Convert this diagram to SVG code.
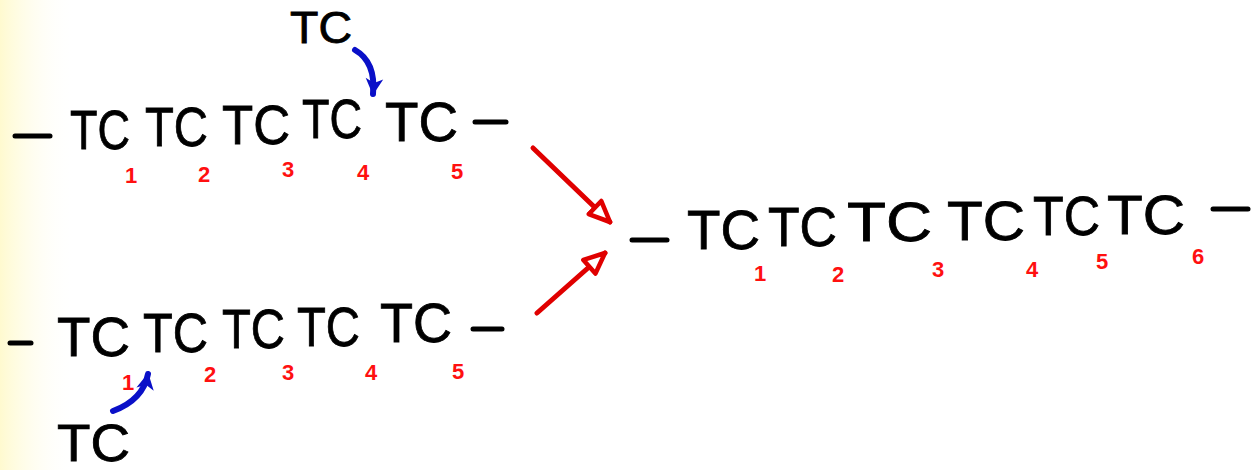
<svg xmlns="http://www.w3.org/2000/svg" width="1254" height="470" viewBox="0 0 1254 470">
<defs>
<linearGradient id="scan" x1="0" y1="0" x2="1" y2="0">
<stop offset="0" stop-color="#fff6a8" stop-opacity="0.55"/>
<stop offset="1" stop-color="#ffffff" stop-opacity="0"/>
</linearGradient>
<marker id="open" markerUnits="userSpaceOnUse" markerWidth="26" markerHeight="26" viewBox="0 0 20 20" refX="18" refY="10" orient="auto">
<path d="M2,3 L18,10 L2,17 Z" fill="#ffffff" stroke="#e00000" stroke-width="3.5" stroke-linejoin="round"/>
</marker>
<marker id="blue" markerUnits="userSpaceOnUse" markerWidth="22" markerHeight="22" viewBox="0 0 20 20" refX="16" refY="10" orient="auto">
<path d="M2,2 L17,10 L2,18 L6,10 Z" fill="#0a10c8"/>
</marker>
</defs>
<style>
.tc{font-family:"Liberation Sans",Arial,sans-serif;font-size:56px;fill:#000;stroke:#000;stroke-width:0.8}
.num{font-family:"Liberation Sans",Arial,sans-serif;font-size:22px;font-weight:bold;fill:#ff1010;text-anchor:middle}
.dash{stroke:#000;stroke-width:5;stroke-linecap:round}
.red{stroke:#e00000;stroke-width:5;stroke-linecap:round;fill:none}
.bl{stroke:#0a10c8;stroke-width:6;stroke-linecap:round;fill:none}
</style>
<rect x="0" y="0" width="1254" height="470" fill="#ffffff"/>
<rect x="0" y="0" width="75" height="470" fill="url(#scan)"/>

<g id="chain-top">
<line class="dash" x1="15" y1="136" x2="50" y2="136"/>
<text class="tc" x="70" y="149" textLength="60" lengthAdjust="spacingAndGlyphs">TC</text>
<text class="tc" x="145" y="146" textLength="63" lengthAdjust="spacingAndGlyphs">TC</text>
<text class="tc" x="222" y="144" textLength="68" lengthAdjust="spacingAndGlyphs">TC</text>
<text class="tc" x="302" y="138" textLength="60" lengthAdjust="spacingAndGlyphs">TC</text>
<text class="tc" x="385" y="141" textLength="73" lengthAdjust="spacingAndGlyphs">TC</text>
<line class="dash" x1="475" y1="122" x2="506" y2="122"/>
<text class="num" x="131" y="183">1</text>
<text class="num" x="204" y="182">2</text>
<text class="num" x="288" y="177">3</text>
<text class="num" x="363" y="180">4</text>
<text class="num" x="457" y="179">5</text>
</g>

<g id="insert-top">
<text class="tc" x="290" y="43" textLength="62" lengthAdjust="spacingAndGlyphs" style="font-size:44px">TC</text>
</g>

<g id="chain-bottom">
<line class="dash" x1="10" y1="343" x2="31" y2="343"/>
<text class="tc" x="57" y="356" textLength="73" lengthAdjust="spacingAndGlyphs">TC</text>
<text class="tc" x="143" y="352" textLength="65" lengthAdjust="spacingAndGlyphs">TC</text>
<text class="tc" x="222" y="348" textLength="63" lengthAdjust="spacingAndGlyphs">TC</text>
<text class="tc" x="297" y="346" textLength="63" lengthAdjust="spacingAndGlyphs">TC</text>
<text class="tc" x="380" y="342" textLength="72" lengthAdjust="spacingAndGlyphs">TC</text>
<line class="dash" x1="473" y1="329" x2="502" y2="329"/>
<text class="num" x="128" y="390">1</text>
<text class="num" x="210" y="382">2</text>
<text class="num" x="288" y="380">3</text>
<text class="num" x="371" y="380">4</text>
<text class="num" x="458" y="379">5</text>
</g>

<g id="insert-bottom">
<text class="tc" x="57" y="461" textLength="73" lengthAdjust="spacingAndGlyphs" style="font-size:52px">TC</text>
</g>

<g id="chain-result">
<line class="dash" x1="632" y1="240" x2="667" y2="240"/>
<text class="tc" x="687" y="249" textLength="73" lengthAdjust="spacingAndGlyphs">TC</text>
<text class="tc" x="768" y="246" textLength="69" lengthAdjust="spacingAndGlyphs">TC</text>
<text class="tc" x="847" y="241" textLength="85" lengthAdjust="spacingAndGlyphs">TC</text>
<text class="tc" x="947" y="240" textLength="78" lengthAdjust="spacingAndGlyphs">TC</text>
<text class="tc" x="1033" y="235" textLength="67" lengthAdjust="spacingAndGlyphs">TC</text>
<text class="tc" x="1107" y="234" textLength="78" lengthAdjust="spacingAndGlyphs">TC</text>
<line class="dash" x1="1213" y1="209" x2="1248" y2="209"/>
<text class="num" x="760" y="281">1</text>
<text class="num" x="838" y="282">2</text>
<text class="num" x="938" y="277">3</text>
<text class="num" x="1032" y="277">4</text>
<text class="num" x="1102" y="269">5</text>
<text class="num" x="1198" y="264">6</text>
</g>

<g id="connectors">
<path class="bl" d="M355 50 Q376 62 373 94" marker-end="url(#blue)"/>
<path class="bl" d="M113 411 Q143 400 148 374" marker-end="url(#blue)"/>
<line class="red" x1="533" y1="148" x2="610" y2="222" marker-end="url(#open)"/>
<line class="red" x1="537" y1="313" x2="605" y2="253" marker-end="url(#open)"/>
</g>
</svg>
